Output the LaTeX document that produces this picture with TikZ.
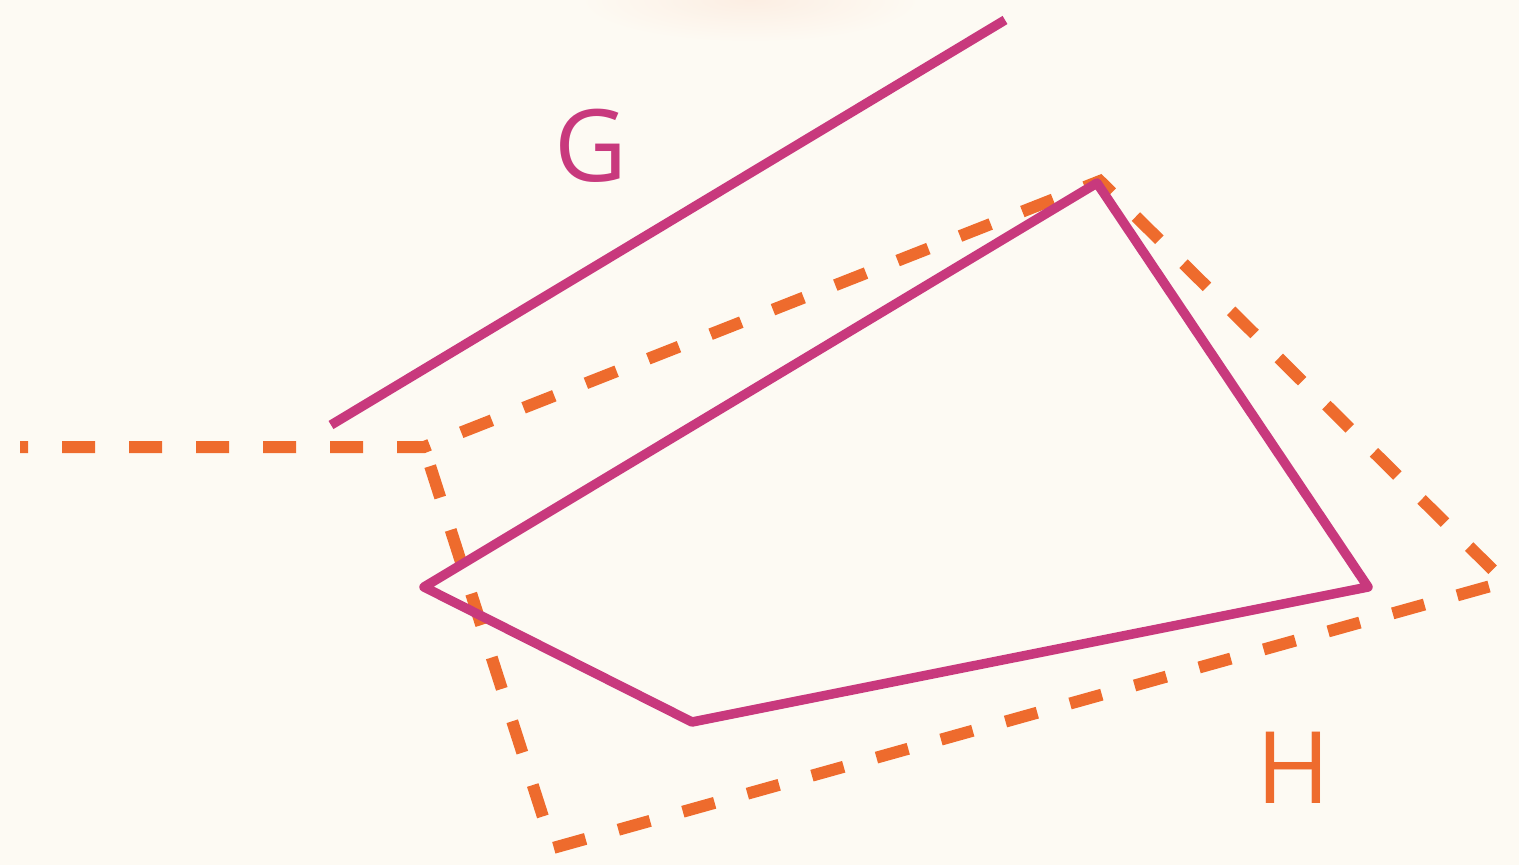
\documentclass[tikz,border=0pt]{standalone}
\usepackage{fontspec}
\setmainfont{Open Sans}
\definecolor{bg}{HTML}{FDFAF3}
\definecolor{mag}{HTML}{C8397D}
\definecolor{org}{HTML}{EE6B2D}
\definecolor{glow}{HTML}{FCEEE3}
\begin{document}
\begin{tikzpicture}[x=1pt,y=-1pt,
  magline/.style={draw=mag,line width=9.5pt,line join=round},
  orgline/.style={draw=org,line width=12pt,dash pattern=on 33pt off 34pt,dash phase=25pt},
  lbl/.style={font=\fontsize{100}{100}\selectfont,inner sep=0pt}]
\fill[bg] (0,0) rectangle (1519,865);
\useasboundingbox (0,0) rectangle (1519,865);
\begin{scope}
\clip (0,0) rectangle (1519,865);
\shade[inner color=glow,outer color=bg] (750,0) ellipse (170 and 42);
\end{scope}
% orange dashed
\coordinate (o0) at (20,447);
\coordinate (o1) at (424,447);
\coordinate (o2) at (1100,181);
\coordinate (o3) at (1505,582);
\coordinate (o4) at (553,848);
\draw[orgline] (o0) -- (o1) -- (o2) -- (o3) -- (o4) -- (o1);
% magenta
\coordinate (g0) at (331,425);
\coordinate (g1) at (1005,20);
\draw[magline] (g0) -- (g1);
\coordinate (p0) at (424,587);
\coordinate (p1) at (1097,183);
\coordinate (p2) at (1368,587);
\coordinate (p3) at (692,722);
\draw[magline] (p0) -- (p1) -- (p2) -- (p3) -- cycle;
\node[lbl,text=mag] (G) at (591,146) {G};
\node[lbl,text=org] (H) at (1293,768) {H};
\end{tikzpicture}
\end{document}
